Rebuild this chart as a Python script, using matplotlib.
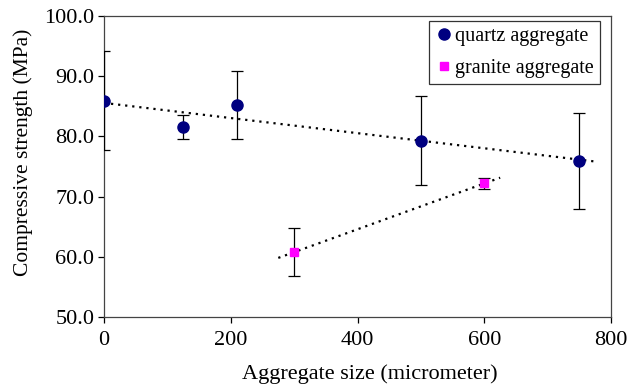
import numpy as np
import matplotlib.pyplot as plt

# datos leidos da figura
quartz_x = np.array([0, 125, 210, 500, 750])
quartz_y = np.array([85.9, 81.6, 85.2, 79.3, 75.9])
quartz_err = np.array([8.2, 2.0, 5.7, 7.4, 8.0])

granite_x = np.array([300, 600])
granite_y = np.array([60.8, 72.2])
granite_err = np.array([4.0, 0.9])

plt.rcParams['font.family'] = 'Liberation Serif'

fig = plt.figure(figsize=(6.3, 3.86), dpi=100)
ax = fig.add_axes([0.165, 0.178, 0.805, 0.781])

# linhas de tendencia (ajuste linear, estendidas 25 nas pontas)
p_q = np.polyfit(quartz_x, quartz_y, 1)
xq = np.array([quartz_x.min(), quartz_x.max() + 25])
ax.plot(xq, np.polyval(p_q, xq), color='black', linestyle=(0, (1, 2.2)), linewidth=1.6, zorder=2)

p_g = np.polyfit(granite_x, granite_y, 1)
xg = np.array([granite_x.min() - 25, granite_x.max() + 25])
ax.plot(xg, np.polyval(p_g, xg), color='black', linestyle=(0, (1, 2.2)), linewidth=1.6, zorder=2)

ax.errorbar(quartz_x, quartz_y, yerr=quartz_err, fmt='o', color='#000080', markersize=8,
            ecolor='black', elinewidth=0.9, capsize=4.5, capthick=0.9,
            label='quartz aggregate', zorder=3)
ax.errorbar(granite_x, granite_y, yerr=granite_err, fmt='s', color='#FF00FF', markersize=5.5,
            ecolor='black', elinewidth=0.9, capsize=4.5, capthick=0.9,
            label='granite aggregate', zorder=3)

ax.set_xlim(0, 800)
ax.set_ylim(50, 100)
ax.set_xticks([0, 200, 400, 600, 800])
ax.set_yticks([50, 60, 70, 80, 90, 100])
ax.set_yticklabels([f'{v:.1f}' for v in [50, 60, 70, 80, 90, 100]])
ax.tick_params(direction='out', length=4, width=0.9, labelsize=16, colors='black', pad=3)
ax.tick_params(axis='x', pad=6)
for s in ax.spines.values():
    s.set_color('#444444')
    s.set_linewidth(0.9)

ax.set_xlabel('Aggregate size (micrometer)', fontsize=16)
ax.set_ylabel('Compressive strength (MPa)', fontsize=15.5)
# posicao dos titulos dos eixos igual ao original
ax.xaxis.set_label_coords(0.525, -0.155)
ax.yaxis.set_label_coords(-0.14, 0.547)

# legenda sem as barras de erro
h, l = ax.get_legend_handles_labels()
h = [x[0] for x in h]
leg = ax.legend(h, l, loc='upper right', fontsize=14.5, frameon=True, fancybox=False,
                edgecolor='black', borderpad=0.3, handletextpad=0.1, handlelength=0.9,
                labelspacing=0.65, borderaxespad=0, bbox_to_anchor=(0.978, 0.983))
leg.get_frame().set_linewidth(0.9)

fig.savefig('out.png', dpi=100)
